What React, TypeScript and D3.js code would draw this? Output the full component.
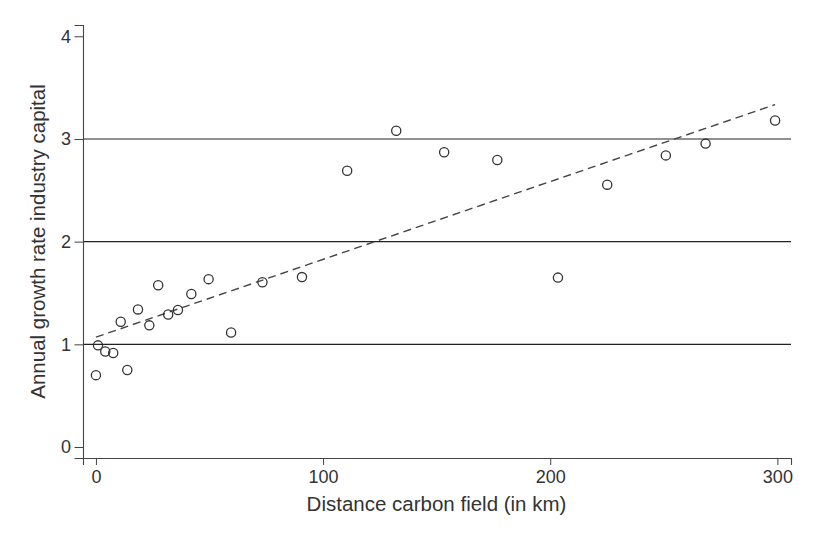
import { useEffect, useRef } from 'react';
import * as d3 from 'd3';

// distance to carbon field (km) and annual growth rate
const distance = [0, 0.9, 4.1, 7.6, 10.9, 13.8, 18.5, 23.5, 27.4, 31.8, 36.1, 42, 49.6, 59.5, 73.3, 90.7, 110.6, 132.2, 153.3, 176.7, 203.4, 225.1, 250.9, 268.4, 299];
const growth = [0.7, 0.99, 0.93, 0.915, 1.22, 0.75, 1.34, 1.185, 1.575, 1.29, 1.335, 1.49, 1.635, 1.115, 1.605, 1.655, 2.69, 3.08, 2.87, 2.795, 1.65, 2.555, 2.84, 2.955, 3.18];

// fitted line end points
const fitX = [0, 299];
const fitY = [1.07, 3.335];

const xTicks = [0, 100, 200, 300];
const yTicks = [0, 1, 2, 3, 4];
const gridValues = [1, 2, 3];

const width = 818;
const height = 541;

export default function App() {
  const svgRef = useRef<SVGSVGElement>(null);

  useEffect(() => {
    if (!svgRef.current) return;
    const svg = d3.select(svgRef.current);
    svg.selectAll('*').remove();

    const left = 83, right = 791, top = 25, bottom = 458;
    const x = d3.scaleLinear().domain([-5.7, 306]).range([left, right]);
    const y = d3.scaleLinear().domain([-0.107, 4.11]).range([bottom, top]);

    const font = 'Liberation Sans, Arial, sans-serif';

    // grid lines
    svg.append('g')
      .selectAll('line')
      .data(gridValues)
      .join('line')
      .attr('x1', left)
      .attr('x2', right)
      .attr('y1', d => y(d))
      .attr('y2', d => y(d))
      .attr('stroke', '#222')
      .attr('stroke-width', 1.1);

    // axes
    const yAxis = svg.append('g')
      .attr('transform', `translate(${left},0)`)
      .call(d3.axisLeft(y).tickValues(yTicks).tickSize(8.5).tickPadding(3.5).tickFormat(d3.format('d')));
    yAxis.select('.domain').attr('stroke', '#444').attr('stroke-width', 1.1);
    yAxis.selectAll('.tick line').attr('stroke', '#444');
    yAxis.selectAll('text').attr('font-family', font).attr('font-size', 18).attr('fill', '#333');

    const xAxis = svg.append('g')
      .attr('transform', `translate(0,${bottom})`)
      .call(d3.axisBottom(x).tickValues(xTicks).tickSize(7).tickPadding(5).tickFormat(d3.format('d')));
    xAxis.select('.domain').attr('stroke', '#444').attr('stroke-width', 1.1);
    xAxis.selectAll('.tick line').attr('stroke', '#444');
    xAxis.selectAll('text').attr('font-family', font).attr('font-size', 18).attr('fill', '#333');

    // fitted line
    const fit = fitX.map((d, i) => [d, fitY[i]] as [number, number]);
    svg.append('path')
      .datum(fit)
      .attr('d', d3.line<[number, number]>().x(d => x(d[0])).y(d => y(d[1])))
      .attr('fill', 'none')
      .attr('stroke', '#444')
      .attr('stroke-width', 1.4)
      .attr('stroke-dasharray', '8,5');

    // points
    svg.append('g')
      .selectAll('circle')
      .data(distance)
      .join('circle')
      .attr('cx', d => x(d))
      .attr('cy', (_, i) => y(growth[i]))
      .attr('r', 4.6)
      .attr('fill', 'none')
      .attr('stroke', '#333')
      .attr('stroke-width', 1.3);

    // axis titles
    svg.append('text')
      .attr('x', 436.5)
      .attr('y', 511)
      .attr('text-anchor', 'middle')
      .attr('font-family', font)
      .attr('font-size', 20.5)
      .attr('fill', '#333')
      .text('Distance carbon field (in km)');

    svg.append('text')
      .attr('transform', `translate(45,241.5) rotate(-90)`)
      .attr('text-anchor', 'middle')
      .attr('font-family', font)
      .attr('font-size', 20.5)
      .attr('fill', '#333')
      .text('Annual growth rate industry capital');
  }, []);

  return (
    <svg
      ref={svgRef}
      width={width}
      height={height}
      style={{ position: 'absolute', left: 0, top: 0, background: '#fff' }}
    />
  );
}
